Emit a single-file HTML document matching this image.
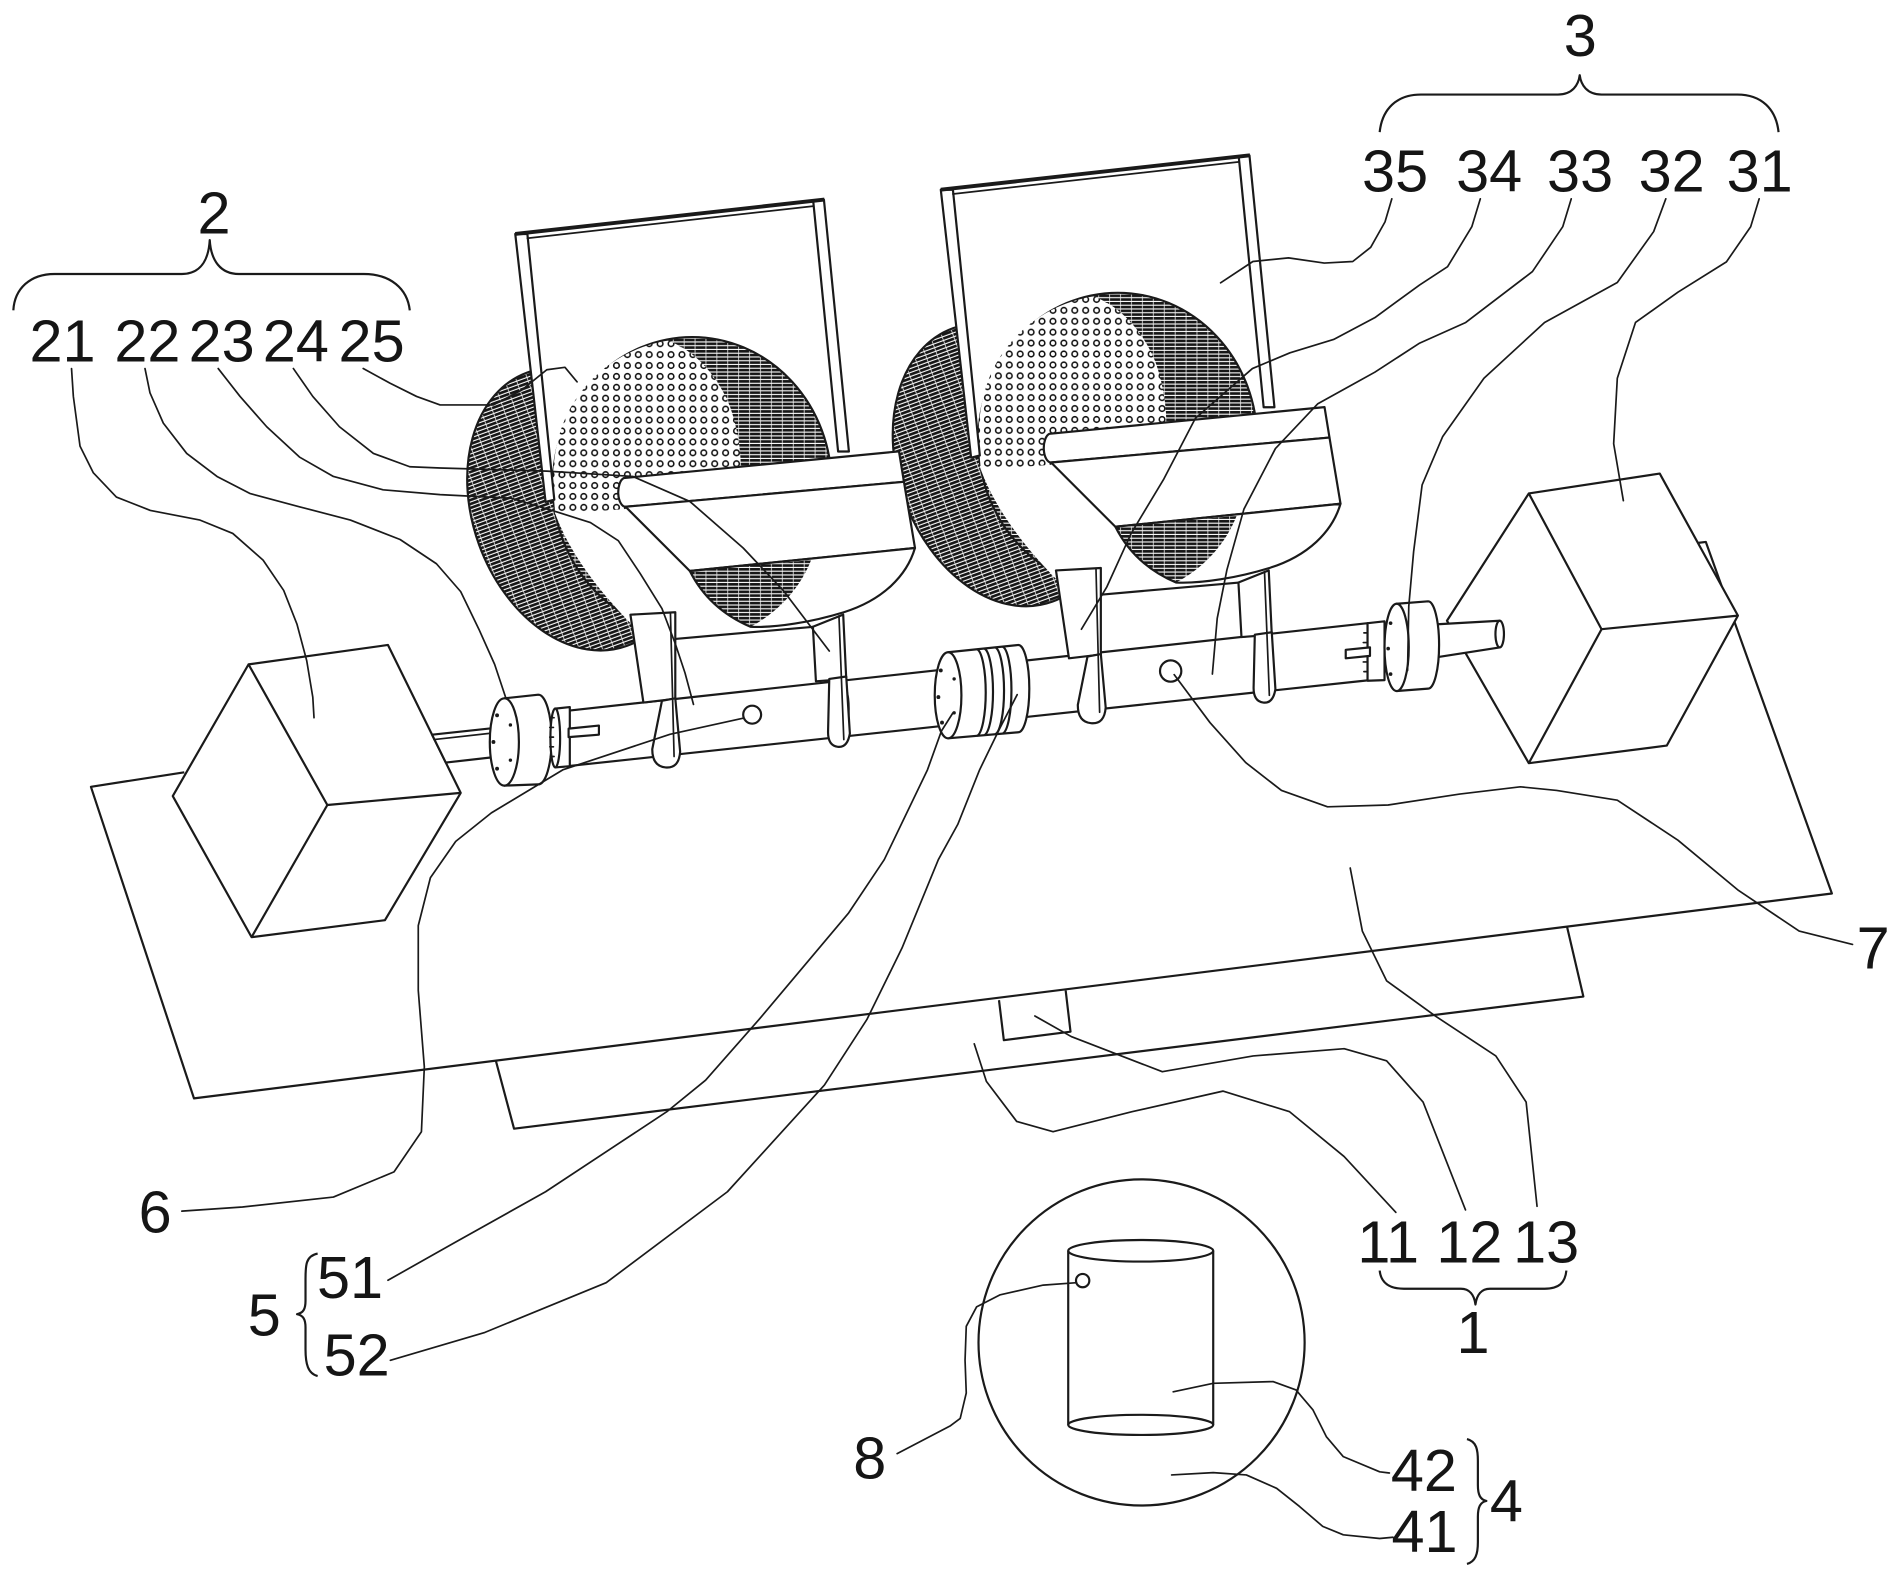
<!DOCTYPE html>
<html><head><meta charset="utf-8"><style>
html,body{margin:0;padding:0;background:#fff;overflow:hidden}
svg{display:block}
text{font-family:"Liberation Sans",Arial,sans-serif;font-size:49px;fill:#151515}
.o{fill:#fff;stroke:#1a1a1a;stroke-width:1.8;stroke-linejoin:round}
.n{fill:none;stroke:#1a1a1a;stroke-width:1.8;stroke-linejoin:round}
.l{fill:none;stroke:#1a1a1a;stroke-width:1.4;stroke-linejoin:round;stroke-linecap:round}
</style></head><body>
<svg width="1901" height="1578" viewBox="0 0 1568 1301.6" preserveAspectRatio="none" xmlns="http://www.w3.org/2000/svg">
<defs>
<pattern id="hatch" patternUnits="userSpaceOnUse" width="9" height="3.1"><rect width="9" height="3.1" fill="#fff"/><rect y="0.4" width="9" height="2.2" fill="#161616"/><rect x="6" y="0.4" width="0.6" height="2.2" fill="#fff"/></pattern>
<pattern id="dots" patternUnits="userSpaceOnUse" width="9" height="9"><rect width="9" height="9" fill="#fff"/><circle cx="4.5" cy="4.5" r="2.3" fill="none" stroke="#111" stroke-width="1.3"/></pattern>
</defs>
<rect width="1568" height="1301.6" fill="#fff"/>

<!-- lower plate 11 -->
<polygon class="o" points="405,860 424,931 1306,822 1288,745"/>
<!-- big plate 13 -->
<polygon points="75,649 160,906 1511,737 1407,447" fill="#fff"/>
<polyline class="n" points="152,637 75,649 160,906 1511,737 1407,447 1399,448"/>
<!-- small rect 12 -->
<polyline class="n" points="824,825 828,858 883,851 879,817"/>

<!-- left cube 21 -->
<polygon class="o" points="205,548 320,532 380,654 317.5,759 207.5,773 142.5,656.6"/>
<polyline class="n" points="205,548 270,664 380,654"/>
<line class="n" x1="270" y1="664" x2="207.5" y2="773"/>
<!-- right cube 31 -->
<polygon class="o" points="1261,407 1369,390.6 1433.5,507.8 1374.8,615 1261,629.5 1193.5,512"/>
<polyline class="n" points="1261,407 1321,519 1433.5,507.8"/>
<line class="n" x1="1321" y1="519" x2="1261" y2="629.5"/>

<!-- left motor shaft -->
<polygon class="o" points="356.4,606 412,600 412,624 367.7,629"/>
<line class="l" x1="358" y1="610" x2="412" y2="604"/>
<!-- main shaft -->
<path class="o" d="M464,586.7 L1128,514 L1128,561.2 L464,632.4 Z"/>
<path class="n" d="M550,577.3 A7,23 0 0 1 550,623.2"/>
<path class="n" d="M693,561.6 A7,23 0 0 1 693,607.8"/>
<path class="n" d="M1040,523.6 A7,23 0 0 1 1040,570.6"/>
<!-- left coupling 22 -->
<path class="o" d="M416,576 L444,573 A11,37 0 0 1 444,647 L416,648 Z"/>
<ellipse class="o" cx="416" cy="612" rx="12" ry="36"/>
<circle cx="410" cy="590" r="1.6" fill="#1a1a1a"/><circle cx="407" cy="612" r="1.6" fill="#1a1a1a"/><circle cx="410" cy="634" r="1.6" fill="#1a1a1a"/><circle cx="421" cy="598" r="1.4" fill="#1a1a1a"/><circle cx="421" cy="627" r="1.4" fill="#1a1a1a"/>
<path class="o" d="M458,584.5 L470,583.2 L470,632 L458,633 Z"/>
<ellipse class="o" cx="458" cy="608.7" rx="4" ry="24.3"/>
<path class="l" d="M454,592 h3 M453.5,600 h3 M453.5,608 h3 M453.5,616 h3 M454,624 h3"/>
<polygon class="o" points="469,601 494,598.5 494,606 469,608"/>
<!-- coupling 5 -->
<path class="o" d="M782,538 L840,532 A9,36 0 0 1 840,604 L782,609 Z"/>
<path class="n" d="M806,535.5 A8,36 0 0 1 806,607 M812,534.9 A8,36 0 0 1 812,606.4 M821,534 A8,36 0 0 1 821,605.6 M827,533.4 A8,36 0 0 1 827,605.1"/>
<ellipse class="o" cx="782" cy="573.5" rx="11" ry="35.5"/>
<circle cx="776" cy="553" r="1.6" fill="#1a1a1a"/><circle cx="774" cy="575" r="1.6" fill="#1a1a1a"/><circle cx="777" cy="596" r="1.6" fill="#1a1a1a"/><circle cx="787" cy="560" r="1.4" fill="#1a1a1a"/><circle cx="787" cy="588" r="1.4" fill="#1a1a1a"/>
<!-- right coupling 32 -->
<polygon class="o" points="1184,515 1237,512 1237,534 1186,542"/>
<ellipse class="o" cx="1237" cy="523" rx="3.5" ry="11"/>
<path class="o" d="M1128,514 L1142,512.5 L1142,561 L1128,561.5 Z"/>
<path class="l" d="M1125,522 h3 M1124.5,530 h3 M1124.5,538 h3 M1124.5,546 h3 M1125,554 h3"/>
<path class="o" d="M1152,498 L1178,496 A9,36 0 0 1 1178,568 L1152,570 Z"/>
<ellipse class="o" cx="1152" cy="534" rx="10" ry="36"/>
<circle cx="1147" cy="514" r="1.5" fill="#1a1a1a"/><circle cx="1145" cy="535" r="1.5" fill="#1a1a1a"/><circle cx="1147" cy="556" r="1.5" fill="#1a1a1a"/>
<polygon class="o" points="1110,536 1130,534 1130,541 1110,543"/>

<!-- RIGHT drum assembly (translated copy) -->
<g transform="translate(351,-36.5)">
 <ellipse cx="476" cy="420" rx="86" ry="120" transform="rotate(-20 476 420)" fill="url(#hatch)" stroke="#1a1a1a" stroke-width="1.8"/>
 <polygon points="425,193 680,164.6 700,372 450,414" fill="#fff"/>
 <ellipse cx="571" cy="400" rx="115" ry="122" fill="url(#hatch)" stroke="#1a1a1a" stroke-width="1.8"/>
 <path d="M457,421 C467,450 488,482 524,518 C548,528 585,526 620,517 C595,505 578,490 569,471 L516,418 Z" fill="#fff"/>
 <path d="M458,424 L456,400 C456,370 463,345 478,325 C495,302 520,286 551,281 C573,289 592,310 602,335 C608,352 611,370 611,385 L611,410 L514,420 Z" fill="url(#dots)"/>
 <path class="o" d="M514.6,394.3 L741.5,372.3 L745.6,397.4 L516,418 A6,12 0 0 1 514.6,394.3 Z"/>
 <polygon class="o" points="516,418 745.6,397.4 754.7,452 569,471"/>
 <path d="M569,471 L754.7,452 C748,475 728,495 696,505 C670,513 640,518 619,517 C598,508 580,493 569,471 Z" fill="#fff"/>
 <path d="M569,471 L669,462 C660,485 642,505 619,517 C598,508 580,493 569,471 Z" fill="url(#hatch)"/>
 <path class="n" d="M569,471 L754.7,452 C748,475 728,495 696,505 C670,513 640,518 619,517 C598,508 580,493 569,471 Z"/>
 <polygon class="o" points="425,193 435,193 457.2,412.2 450,414"/>
 <polygon class="o" points="670.8,166.2 679.6,164.7 700.2,372.4 691.3,372.4"/>
 <line x1="425" y1="193" x2="680" y2="164.6" stroke="#1a1a1a" stroke-width="3.2"/>
 <line class="l" x1="435" y1="196.5" x2="671" y2="170"/>
 <line class="n" x1="557" y1="527" x2="671" y2="517"/>
 <polygon class="o" points="520,507 557,505 557,576.4 530.7,579.5"/>
 <path class="o" d="M546,578 L557,576 L561,620 Q560,634 549,633 Q538,632 538,618 Z"/>
 <line class="l" x1="553" y1="505.5" x2="556" y2="624"/>
 <polygon class="o" points="670.5,517 695.5,507 698,560 673,562"/>
 <path class="o" d="M684,560 L698,558 L701,605 Q699,617 691,616 Q683,615 683,604 Z"/>
 <line class="l" x1="692" y1="508" x2="696" y2="610"/>
</g>

<!-- LEFT drum assembly -->
<g>
 <ellipse cx="476" cy="420" rx="86" ry="120" transform="rotate(-20 476 420)" fill="url(#hatch)" stroke="#1a1a1a" stroke-width="1.8"/>
 <polygon points="425,193 680,164.6 700,372 450,414" fill="#fff"/>
 <ellipse cx="571" cy="400" rx="115" ry="122" fill="url(#hatch)" stroke="#1a1a1a" stroke-width="1.8"/>
 <path d="M457,421 C467,450 488,482 524,518 C548,528 585,526 620,517 C595,505 578,490 569,471 L516,418 Z" fill="#fff"/>
 <path d="M458,424 L456,400 C456,370 463,345 478,325 C495,302 520,286 551,281 C573,289 592,310 602,335 C608,352 611,370 611,385 L611,410 L514,420 Z" fill="url(#dots)"/>
 <path class="o" d="M514.6,394.3 L741.5,372.3 L745.6,397.4 L516,418 A6,12 0 0 1 514.6,394.3 Z"/>
 <polygon class="o" points="516,418 745.6,397.4 754.7,452 569,471"/>
 <path d="M569,471 L754.7,452 C748,475 728,495 696,505 C670,513 640,518 619,517 C598,508 580,493 569,471 Z" fill="#fff"/>
 <path d="M569,471 L669,462 C660,485 642,505 619,517 C598,508 580,493 569,471 Z" fill="url(#hatch)"/>
 <path class="n" d="M569,471 L754.7,452 C748,475 728,495 696,505 C670,513 640,518 619,517 C598,508 580,493 569,471 Z"/>
 <polygon class="o" points="425,193 435,193 457.2,412.2 450,414"/>
 <polygon class="o" points="670.8,166.2 679.6,164.7 700.2,372.4 691.3,372.4"/>
 <line x1="425" y1="193" x2="680" y2="164.6" stroke="#1a1a1a" stroke-width="3.2"/>
 <line class="l" x1="435" y1="196.5" x2="671" y2="170"/>
 <line class="n" x1="557" y1="527" x2="671" y2="517"/>
 <polygon class="o" points="520,507 557,505 557,576.4 530.7,579.5"/>
 <path class="o" d="M546,578 L557,576 L561,620 Q560,634 549,633 Q538,632 538,618 Z"/>
 <line class="l" x1="553" y1="505.5" x2="556" y2="624"/>
 <polygon class="o" points="670.5,517 695.5,507 698,560 673,562"/>
 <path class="o" d="M684,560 L698,558 L701,605 Q699,617 691,616 Q683,615 683,604 Z"/>
 <line class="l" x1="692" y1="508" x2="696" y2="610"/>
</g>

<!-- holes 6 and 7 -->
<circle class="o" cx="620.4" cy="589.5" r="7.4"/>
<circle class="o" cx="965.6" cy="553.5" r="8.8"/>

<!-- detail circle 4 -->
<circle class="n" cx="941.6" cy="1107.3" r="134.5"/>
<line class="n" x1="881.1" y1="1031.7" x2="881.1" y2="1175.3"/>
<line class="n" x1="1000.7" y1="1031.7" x2="1000.7" y2="1175.3"/>
<ellipse class="n" cx="940.9" cy="1031.7" rx="59.8" ry="8.9"/>
<ellipse class="n" cx="940.9" cy="1175.3" rx="59.8" ry="8.3"/>
<circle class="n" cx="893" cy="1056.3" r="5.5"/>

<!-- braces -->
<path class="n" d="M11,256 C12,238 25,226 45,226 L150,226 C165,226 172,215 173,198 C174,215 182,226 197,226 L300,226 C322,226 336,238 338,256"/>
<path class="n" d="M1138,109 C1140,90 1152,78 1172,78 L1285,78 C1297,78 1302,70 1303,62 C1304,70 1309,78 1321,78 L1433,78 C1453,78 1465,90 1467,109"/>
<path class="n" d="M1138,1048 C1139,1058 1146,1063 1158,1063 L1205,1063 C1212,1063 1216,1068 1217,1076 C1218,1068 1222,1063 1229,1063 L1274,1063 C1286,1063 1291,1058 1292,1048"/>
<path class="n" d="M262,1034 C252,1036 252,1044 252,1055 L252,1073 C252,1080 250,1083 245,1084 C250,1085 252,1088 252,1095 L252,1113 C252,1125 254,1133 262,1135"/>
<path class="n" d="M1210,1187 C1218,1189 1219,1196 1219,1205 L1219,1225 C1219,1233 1221,1237 1226,1238 C1221,1239 1219,1243 1219,1251 L1219,1272 C1219,1282 1217,1288 1210,1290"/>

<!-- leaders -->
<polyline class="l" points="59,304 60.5,327 66,368 77,390 96,410 124,421 165,429 192,440 217,462 234,487 245,515 253,545 258,575 259,592"/>
<polyline class="l" points="119.6,304 123.7,324 134.7,349 154,374 179,393 206,407 247,418 289,429 330,445 360,465 380,488 395,519 408,548 417,575"/>
<polyline class="l" points="180,304 198,327 220,352 247,377 275,393 316,404 363,408 422,411 460,422.5 487,431 510,446 528,473 546,502 557,531 565,555 572,581"/>
<polyline class="l" points="242,304 258,327 280,352 308,374 338,385 363,386 451,388.6 522,393 569,413.6 613,452 646,487 684,537"/>
<polyline class="l" points="299.6,304 321.6,316 343.6,327 363,334 407,334 430,322 451,305 466,303 476,315"/>
<polyline class="l" points="1148,164 1142.4,183 1130.6,204 1115.8,215.7 1092.3,217 1062.8,212.7 1033.4,215.7 1006.8,233.3"/>
<polyline class="l" points="1221,164 1214,187 1194,220 1171,235 1134,262 1100,280 1064,291 1033,304 986,345 960,395 933,440 913,484 892,519"/>
<polyline class="l" points="1296,164 1289,187 1264,224 1209,266 1171,283 1134,307 1087,333 1052,370 1026,420 1012,470 1004,510 1000,556"/>
<polyline class="l" points="1374,164 1364,191 1334,233 1274,266 1224,312 1190,360 1173,400 1166,455 1162,500 1161,553"/>
<polyline class="l" points="1451,164 1444,187 1424,216 1384,241 1349,266 1334,312 1331,366 1339,413"/>
<polyline class="l" points="968.5,556.5 998,596 1027.5,629 1057,652 1095,665.5 1145,664 1204,655 1254,649 1284,652 1334,660 1384,693 1434,734.5 1484,768 1528,779"/>
<polyline class="l" points="1113.7,716 1123.7,768 1143.7,809 1183.8,838 1233.8,871 1258.8,909 1267.8,995"/>
<polyline class="l" points="853.6,838 883.6,855 958.7,884 1033.7,871 1108.7,865 1143.7,875 1173.8,909 1208.8,998"/>
<polyline class="l" points="803.6,861 813.6,892 838.6,925 868.6,933.5 933.7,917 1008.7,900 1063.7,917 1108.7,954 1151.3,1000"/>
<polyline class="l" points="613,592.4 552.6,605.7 464.2,635 405.3,670.5 375.9,694 355,724 345,763.5 345,817 350,880 347.6,933.5 325,966.6 275,987.4 200,995.6 150,999"/>
<polyline class="l" points="786,588 776.5,603 765,635 729.4,709 700,753 626,841 582,891 550,917 450,983 375,1025 320,1056"/>
<polyline class="l" points="839,573 824,602 808,635 790,680 774,709 744,782 715,841 680,895 600,983 500,1058 400,1099 322,1122"/>
<polyline class="l" points="888,1058 860.5,1060 825,1068 805.5,1078 797,1094 796,1122 797,1149 792,1170 784,1176 740,1199"/>
<polyline class="l" points="967.7,1148 1000.7,1141 1050,1139.6 1069,1146.5 1083,1163 1094,1185 1108,1201.5 1138,1214 1146,1215"/>
<polyline class="l" points="966.4,1216.6 1000.7,1214.7 1028,1216.6 1053,1227.6 1072,1242.7 1091,1259 1108,1266 1138,1269 1149,1268"/>

<!-- labels -->
<text x="176.5" y="192.5" text-anchor="middle">2</text>
<text x="51.6" y="298" text-anchor="middle">21</text>
<text x="121.6" y="298" text-anchor="middle">22</text>
<text x="182.8" y="298" text-anchor="middle">23</text>
<text x="244" y="298" text-anchor="middle">24</text>
<text x="306.5" y="298" text-anchor="middle">25</text>
<text x="1303.5" y="46" text-anchor="middle">3</text>
<text x="1150.7" y="158" text-anchor="middle">35</text>
<text x="1228.3" y="158" text-anchor="middle">34</text>
<text x="1303.3" y="158" text-anchor="middle">33</text>
<text x="1378.8" y="158" text-anchor="middle">32</text>
<text x="1451.4" y="158" text-anchor="middle">31</text>
<text x="128" y="1016.5" text-anchor="middle">6</text>
<text x="218" y="1101.5" text-anchor="middle">5</text>
<text x="288.7" y="1070.5" text-anchor="middle">51</text>
<text x="294.2" y="1134.5" text-anchor="middle">52</text>
<text x="717.4" y="1219.5" text-anchor="middle">8</text>
<text x="1545" y="799" text-anchor="middle">7</text>
<text x="1145" y="1041.5" text-anchor="middle">11</text>
<text x="1212" y="1041.5" text-anchor="middle">12</text>
<text x="1275.3" y="1041.5" text-anchor="middle">13</text>
<text x="1215" y="1116" text-anchor="middle">1</text>
<text x="1174.5" y="1230" text-anchor="middle">42</text>
<text x="1175" y="1280" text-anchor="middle">41</text>
<text x="1242.5" y="1255" text-anchor="middle">4</text>
</svg>
</body></html>
